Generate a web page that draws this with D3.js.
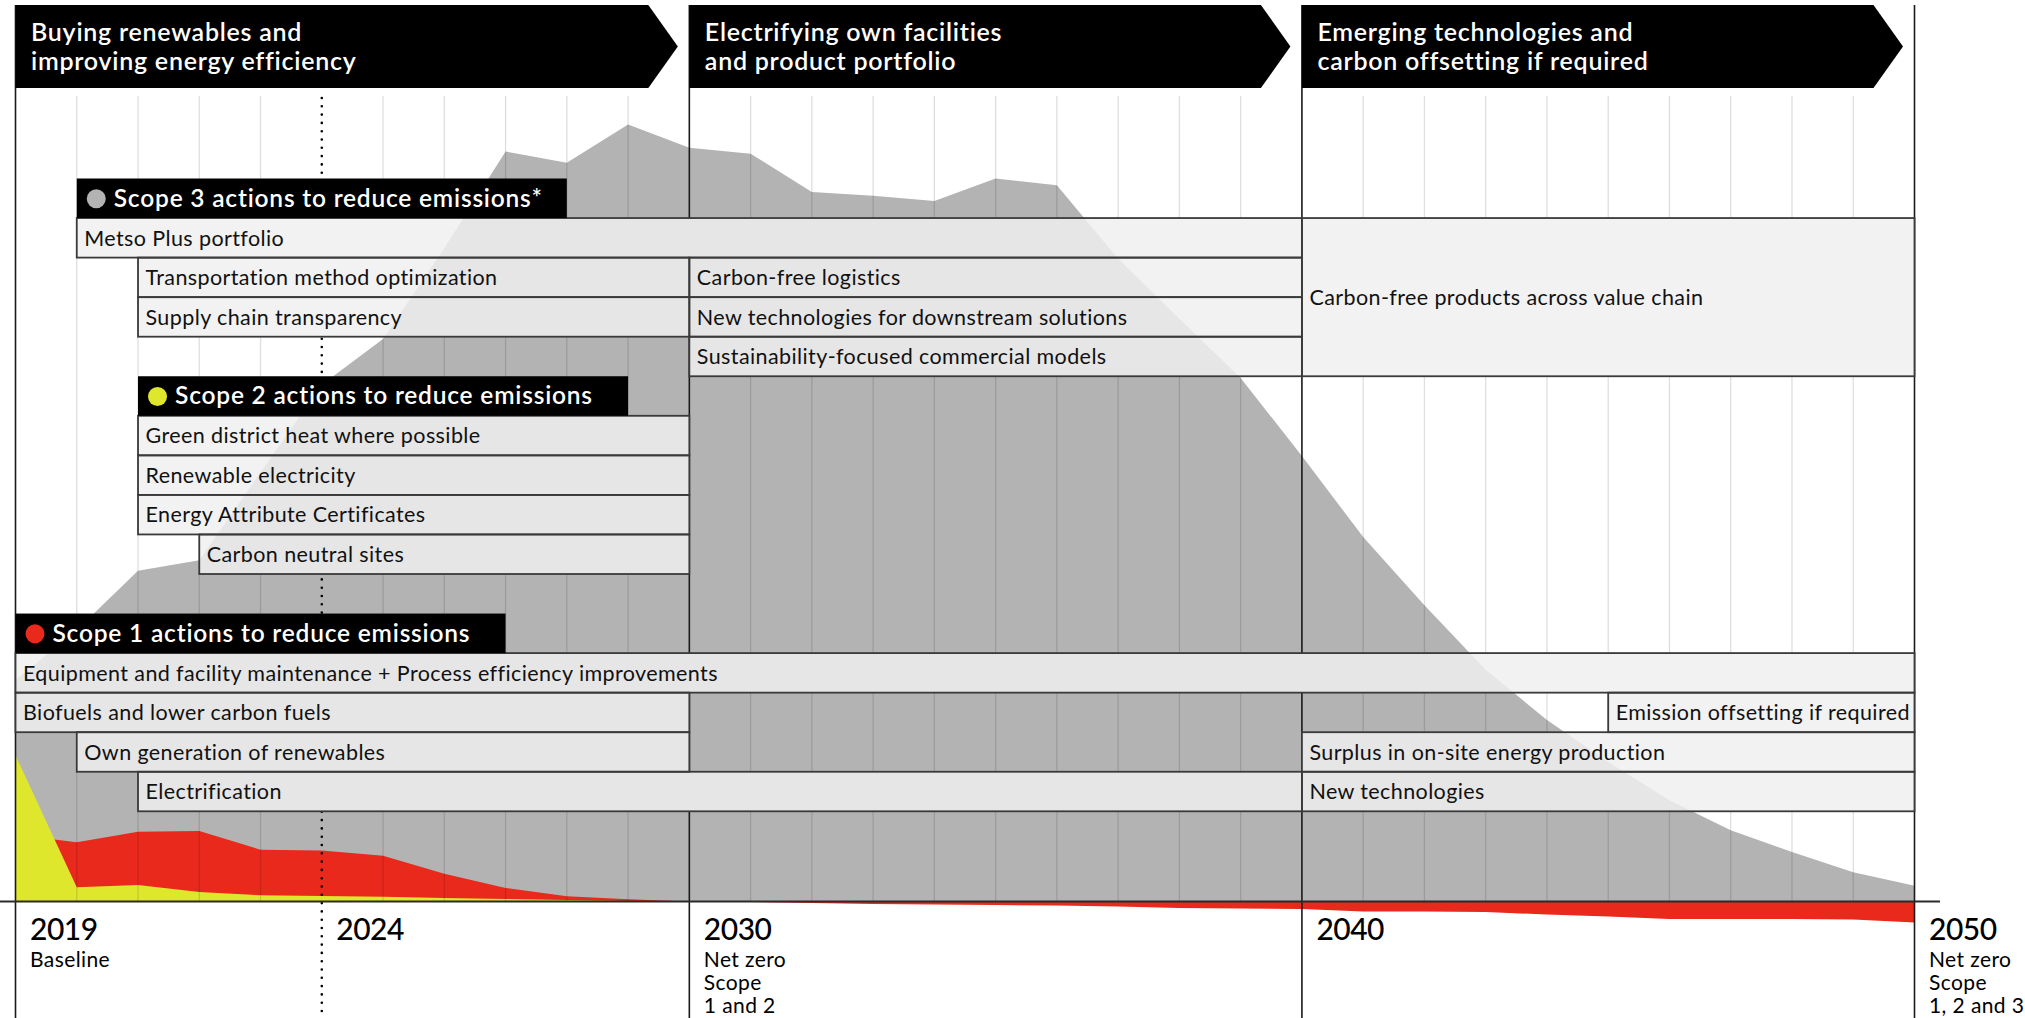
<!DOCTYPE html>
<meta charset="utf-8">
<style>
  body { margin: 0; background: #fff; }
  svg { display: block; font-family: Lato, "Open Sans", sans-serif; }
</style>
<body>
  <svg id="chart" width="2025" height="1018"></svg>

  <script src="https://cdnjs.cloudflare.com/ajax/libs/d3/7.8.5/d3.min.js"></script>
  <script>

    // years on the time axis
    const years = [2019, 2020, 2021, 2022, 2023, 2024, 2025, 2026, 2027, 2028, 2029, 2030,
      2031, 2032, 2033, 2034, 2035, 2036, 2037, 2038, 2039, 2040,
      2041, 2042, 2043, 2044, 2045, 2046, 2047, 2048, 2049, 2050]

    // emissions, index (2027 scope 3 peak ~ 100)
    const scope3 = [29.5, 36.2, 44.1, 45.5, 57.2, 68.9, 75.0, 87.1, 100, 98.5, 103.6, 100.5,
      99.7, 94.6, 94.1, 93.4, 96.4, 95.5, 85.7, 77.7, 69.8, 59.4,
      48.6, 39.5, 30.9, 24.2, 18.6, 13.5, 9.5, 6.6, 3.9, 2.1]
    const scope1 = [8.9, 7.9, 9.3, 9.4, 6.9, 6.8, 6.1, 3.7, 1.8, 0.7, 0.3, 0,
      -0.07, -0.2, -0.33, -0.4, -0.47, -0.53, -0.67, -0.87, -0.93, -1.0,
      -1.33, -1.33, -1.4, -1.73, -2.0, -2.33, -2.33, -2.33, -2.4, -2.8]
    const scope2 = [19.5, 1.9, 2.2, 1.27, 0.83, 0.73, 0.64, 0.47, 0.33, 0.2, 0.07, 0,
      0, 0, 0, 0, 0, 0, 0, 0, 0, 0,
      0, 0, 0, 0, 0, 0, 0, 0, 0, 0]

    // phases shown as arrows on top
    const phaseStart = [2019, 2030, 2040]
    const phaseEnd = [2030, 2040, 2050]
    const phaseTitle = [
      ["Buying renewables and", "improving energy efficiency"],
      ["Electrifying own facilities", "and product portfolio"],
      ["Emerging technologies and", "carbon offsetting if required"]
    ]

    // scope headers: label, from, to, row, dot colour
    const headers = [
      ["Scope 3 actions to reduce emissions*", 2020, 2028, 0, "#b3b3b3"],
      ["Scope 2 actions to reduce emissions", 2021, 2029, 5, "#dfe72c"],
      ["Scope 1 actions to reduce emissions", 2019, 2027, 11, "#e8291b"]
    ]

    // actions: label, from, to, row, rows spanned
    const actions = [
      ["Metso Plus portfolio", 2020, 2040, 1, 1],
      ["Transportation method optimization", 2021, 2030, 2, 1],
      ["Carbon-free logistics", 2030, 2040, 2, 1],
      ["Supply chain transparency", 2021, 2030, 3, 1],
      ["New technologies for downstream solutions", 2030, 2040, 3, 1],
      ["Sustainability-focused commercial models", 2030, 2040, 4, 1],
      ["Carbon-free products across value chain", 2040, 2050, 1, 4],
      ["Green district heat where possible", 2021, 2030, 6, 1],
      ["Renewable electricity", 2021, 2030, 7, 1],
      ["Energy Attribute Certificates", 2021, 2030, 8, 1],
      ["Carbon neutral sites", 2022, 2030, 9, 1],
      ["Equipment and facility maintenance + Process efficiency improvements", 2019, 2050, 12, 1],
      ["Biofuels and lower carbon fuels", 2019, 2030, 13, 1],
      ["Emission offsetting if required", 2045, 2050, 13, 1],
      ["Own generation of renewables", 2020, 2030, 14, 1],
      ["Surplus in on-site energy production", 2040, 2050, 14, 1],
      ["Electrification", 2021, 2040, 15, 1],
      ["New technologies", 2040, 2050, 15, 1]
    ]

    const yearLabels = [2019, 2024, 2030, 2040, 2050]
    const yearNotes = [["Baseline"], [], ["Net zero", "Scope", "1 and 2"], [], ["Net zero", "Scope", "1, 2 and 3"]]


    var svg = d3.select("#chart")

    var x = d3.scaleLinear().domain([2019, 2050]).range([15.5, 1914.5])
    var y = d3.scaleLinear().domain([0, 100]).range([901.5, 151.5])

    var rowTop = 178.5, rowH = 39.55
    var gridTop = 96, bannerTop = 5, bannerBottom = 88

    var area = d3.area()
      .x((d, i) => x(years[i]))
      .y0(y(0))
      .y1(d => y(d))

    // emission areas
    svg.append("path").datum(scope3).attr("d", area).attr("fill", "#b3b3b3")
    svg.append("path").datum(scope1).attr("d", area).attr("fill", "#e8291b")
    svg.append("path").datum(scope2).attr("d", area).attr("fill", "#dfe72c")

    // yearly grid
    var thick = phaseStart.concat([2050, 2024])
    svg.append("g")
      .selectAll("line")
      .data(years.filter(d => !thick.includes(d)))
      .join("line")
      .attr("x1", d => x(d)).attr("x2", d => x(d))
      .attr("y1", gridTop).attr("y2", y(0))
      .attr("stroke", "#000")
      .attr("stroke-opacity", 0.13)
      .attr("stroke-width", 1.3)

    // phase borders
    svg.append("g")
      .selectAll("line")
      .data(phaseStart.concat([2050]))
      .join("line")
      .attr("x1", d => x(d)).attr("x2", d => x(d))
      .attr("y1", bannerTop).attr("y2", 1018)
      .attr("stroke", "#1a1a1a")
      .attr("stroke-width", 1.6)

    // 2024 dotted marker
    svg.append("line")
      .attr("x1", x(2024)).attr("x2", x(2024))
      .attr("y1", gridTop + 2).attr("y2", 1018)
      .attr("stroke", "#000")
      .attr("stroke-width", 2.6)
      .attr("stroke-linecap", "round")
      .attr("stroke-dasharray", "0 8.3")

    // action boxes
    var boxes = actions.map(a => ({
      label: a[0],
      x0: x(a[1]), x1: x(a[2]),
      y0: rowTop + a[3] * rowH,
      y1: rowTop + (a[3] + a[4]) * rowH
    }))

    svg.append("defs").append("clipPath").attr("id", "boxclip")
      .selectAll("rect")
      .data(boxes)
      .join("rect")
      .attr("x", d => d.x0).attr("y", d => d.y0)
      .attr("width", d => d.x1 - d.x0).attr("height", d => d.y1 - d.y0)

    svg.append("g")
      .selectAll("rect")
      .data(boxes)
      .join("rect")
      .attr("x", d => d.x0).attr("y", d => d.y0)
      .attr("width", d => d.x1 - d.x0).attr("height", d => d.y1 - d.y0)
      .attr("fill", "#f2f2f2")

    // the area shows through the boxes a little
    svg.append("path").datum(scope3).attr("d", area)
      .attr("fill", "#e6e6e6")
      .attr("clip-path", "url(#boxclip)")

    svg.append("g")
      .selectAll("rect")
      .data(boxes)
      .join("rect")
      .attr("x", d => d.x0).attr("y", d => d.y0)
      .attr("width", d => d.x1 - d.x0).attr("height", d => d.y1 - d.y0)
      .attr("fill", "none")
      .attr("stroke", "#3a3a3a")
      .attr("stroke-width", 1.8)

    svg.append("g")
      .selectAll("text")
      .data(boxes)
      .join("text")
      .attr("x", d => d.x0 + 7.5)
      .attr("y", d => (d.y0 + d.y1) / 2 + 7.7)
      .attr("fill", "#111")
      .style("font-size", "21.5px")
      .style("letter-spacing", "0.4px")
      .text(d => d.label)

    // scope headers
    var hdr = svg.append("g")
      .selectAll("g")
      .data(headers)
      .join("g")
      .attr("transform", d => `translate(${x(d[1])},${rowTop + d[3] * rowH})`)

    hdr.append("rect")
      .attr("width", d => x(d[2]) - x(d[1]))
      .attr("height", rowH)
      .attr("fill", "#000")
    hdr.append("circle")
      .attr("cx", 19.5).attr("cy", rowH / 2 + 0.5).attr("r", 9.5)
      .attr("fill", d => d[4])
    hdr.append("text")
      .attr("x", 37).attr("y", 28)
      .attr("fill", "#fff")
      .style("font-size", "24.5px")
      .style("font-weight", 600)
      .style("letter-spacing", "0.8px")
      .text(d => d[0])

    // phase banners
    var ban = svg.append("g")
      .selectAll("g")
      .data(phaseStart)
      .join("g")

    ban.append("path")
      .attr("d", (d, i) => {
        var x0 = x(d), x1 = x(phaseEnd[i])
        var mid = (bannerTop + bannerBottom) / 2
        return `M${x0},${bannerTop}H${x1 - 41}L${x1 - 11.5},${mid}L${x1 - 41},${bannerBottom}H${x0}Z`
      })
      .attr("fill", "#000")

    ban.append("text")
      .attr("x", d => x(d) + 15.5)
      .attr("y", 40.5)
      .attr("fill", "#fff")
      .style("font-size", "25px")
      .style("font-weight", 600)
      .style("letter-spacing", "0.75px")
      .selectAll("tspan")
      .data((d, i) => phaseTitle[i])
      .join("tspan")
      .attr("x", function () { return this.parentNode.getAttribute("x") })
      .attr("dy", (d, i) => i ? 29 : 0)
      .text(d => d)

    // zero line
    svg.append("line")
      .attr("x1", 0).attr("x2", 1940)
      .attr("y1", y(0)).attr("y2", y(0))
      .attr("stroke", "#2a2a2a")
      .attr("stroke-width", 2)

    // year labels
    var yl = svg.append("g")
      .selectAll("text")
      .data(yearLabels)
      .join("text")
      .attr("x", d => x(d) + 14.5)
      .attr("y", 940)
      .attr("fill", "#000")

    yl.append("tspan")
      .style("font-size", "30px")
      .style("font-weight", 500)
      .style("letter-spacing", "-0.5px")
      .text(d => d)

    yl.selectAll("tspan.note")
      .data((d, i) => yearNotes[i].map(n => [n, x(d) + 14.5]))
      .join("tspan")
      .attr("class", "note")
      .attr("x", d => d[1])
      .attr("dy", (d, i) => i ? 23.3 : 26.7)
      .style("font-size", "21px")
      .style("letter-spacing", "0.4px")
      .text(d => d[0])

  </script>
</body>
